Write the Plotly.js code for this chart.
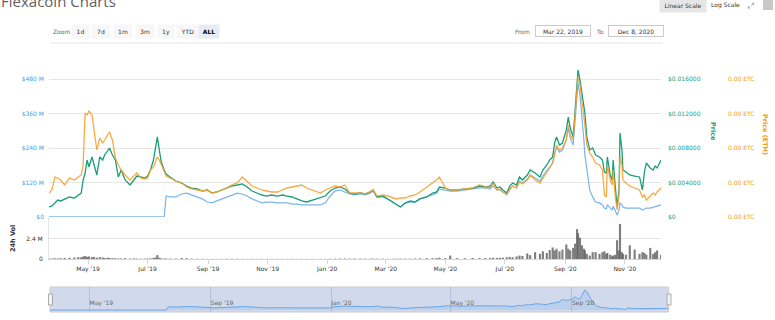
<!DOCTYPE html>
<html><head><meta charset="utf-8">
<script src="https://cdn.plot.ly/plotly-3.0.1.min.js"></script>
<style>html,body{margin:0;padding:0;background:#fff;}#chart{width:775px;height:320px;}</style>
</head><body><div id="chart"></div>
<script>
const dates = ["2019-03-22","2019-03-25","2019-03-28","2019-03-31","2019-04-03","2019-04-07","2019-04-12","2019-04-17","2019-04-21","2019-04-24","2019-04-26","2019-04-28","2019-04-30","2019-05-02","2019-05-05","2019-05-07","2019-05-10","2019-05-13","2019-05-16","2019-05-18","2019-05-21","2019-05-23","2019-05-26","2019-05-29","2019-06-01","2019-06-04","2019-06-08","2019-06-13","2019-06-17","2019-06-20","2019-06-24","2019-06-28","2019-07-01","2019-07-04","2019-07-07","2019-07-09","2019-07-11","2019-07-13","2019-07-15","2019-07-18","2019-07-20","2019-07-24","2019-07-30","2019-08-05","2019-08-10","2019-08-15","2019-08-21","2019-08-26","2019-08-31","2019-09-05","2019-09-10","2019-09-15","2019-09-20","2019-09-25","2019-10-01","2019-10-06","2019-10-11","2019-10-16","2019-10-21","2019-10-26","2019-10-31","2019-11-05","2019-11-11","2019-11-16","2019-11-21","2019-11-26","2019-12-01","2019-12-06","2019-12-11","2019-12-17","2019-12-25","2019-12-30","2020-01-04","2020-01-09","2020-01-14","2020-01-19","2020-01-24","2020-01-29","2020-02-04","2020-02-09","2020-02-14","2020-02-17","2020-02-21","2020-02-27","2020-03-03","2020-03-08","2020-03-12","2020-03-16","2020-03-21","2020-03-26","2020-03-31","2020-04-05","2020-04-12","2020-04-18","2020-04-22","2020-04-25","2020-05-01","2020-05-06","2020-05-13","2020-05-21","2020-05-29","2020-06-05","2020-06-11","2020-06-16","2020-06-19","2020-06-23","2020-06-26","2020-06-29","2020-07-03","2020-07-06","2020-07-09","2020-07-13","2020-07-16","2020-07-19","2020-07-24","2020-07-27","2020-08-01","2020-08-06","2020-08-09","2020-08-13","2020-08-16","2020-08-19","2020-08-21","2020-08-23","2020-08-26","2020-08-29","2020-09-02","2020-09-04","2020-09-06","2020-09-09","2020-09-11","2020-09-13","2020-09-14","2020-09-16","2020-09-18","2020-09-20","2020-09-21","2020-09-23","2020-09-26","2020-09-29","2020-10-02","2020-10-06","2020-10-09","2020-10-11","2020-10-13","2020-10-14","2020-10-17","2020-10-19","2020-10-20","2020-10-22","2020-10-24","2020-10-26","2020-10-27","2020-10-29","2020-10-30","2020-11-02","2020-11-06","2020-11-11","2020-11-16","2020-11-19","2020-11-21","2020-11-23","2020-11-27","2020-11-30","2020-12-02","2020-12-04","2020-12-08"];

// Market cap, USD millions
const marketCapM = [0.3,0.3,0.3,0.3,0.3,0.3,0.3,0.3,0.3,0.3,
0.3,0.3,0.3,0.3,0.3,0.3,0.3,0.3,0.3,0.3,
0.3,0.3,0.3,0.3,0.3,0.3,0.3,0.3,0.3,0.3,
0.3,0.3,0.3,0.3,0.3,0.3,0.3,0.3,0.3,0.3,
73,70,70,80,83,77,70,63,52,49,
56,63,70,77,83,80,73,63,56,49,
52,52,49,49,49,45,45,42,42,42,
42,49,73,90,94,87,80,77,80,77,
83,90,70,70,63,52,42,35,49,52,
52,63,70,77,83,97,94,90,90,94,
97,101,101,97,108,94,94,87,77,97,
108,101,125,118,132,146,136,125,143,163,
174,188,223,243,226,233,268,310,275,250,
337,424,466,424,355,268,216,163,94,70,
52,49,42,31,28,42,31,24,38,21,
7,24,49,42,35,31,31,31,31,24,
28,31,31,35,35,38,42];

// Price, USD
const priceUSD = [0.00116,0.00128,0.00162,0.00197,0.00186,0.00209,0.00232,0.00220,0.00255,0.00278,
0.00429,0.00510,0.00661,0.00580,0.00696,0.00603,0.00487,0.00696,0.00661,0.00719,
0.00777,0.00800,0.00719,0.00661,0.00464,0.00545,0.00429,0.00371,0.00429,0.00475,
0.00464,0.00452,0.00475,0.00545,0.00661,0.00800,0.00928,0.00777,0.00638,0.00545,
0.00499,0.00464,0.00417,0.00394,0.00359,0.00336,0.00325,0.00301,0.00313,0.00278,
0.00290,0.00313,0.00336,0.00359,0.00371,0.00383,0.00348,0.00301,0.00278,0.00255,
0.00243,0.00255,0.00243,0.00255,0.00243,0.00232,0.00209,0.00186,0.00174,0.00197,
0.00220,0.00243,0.00301,0.00336,0.00348,0.00325,0.00278,0.00267,0.00278,0.00267,
0.00290,0.00313,0.00232,0.00243,0.00209,0.00174,0.00139,0.00116,0.00162,0.00186,
0.00174,0.00209,0.00232,0.00278,0.00290,0.00348,0.00336,0.00313,0.00313,0.00325,
0.00336,0.00359,0.00348,0.00359,0.00406,0.00336,0.00348,0.00313,0.00278,0.00359,
0.00394,0.00371,0.00464,0.00429,0.00487,0.00545,0.00510,0.00464,0.00545,0.00603,
0.00661,0.00696,0.00858,0.00928,0.00835,0.00858,0.01009,0.01159,0.01032,0.00928,
0.01241,0.01530,0.01704,0.01588,0.01438,0.01299,0.01206,0.00928,0.00777,0.00800,
0.00719,0.00696,0.00661,0.00522,0.00510,0.00696,0.00487,0.00429,0.00661,0.00371,
0.00116,0.00313,0.00974,0.00777,0.00545,0.00522,0.00487,0.00475,0.00464,0.00313,
0.00522,0.00626,0.00568,0.00545,0.00591,0.00568,0.00661];

// Price in ETH, micro-ETH
const priceEthMicro = [6.96,7.83,11.59,11.30,10.72,9.28,11.30,10.72,11.59,12.17,
15.07,30.14,29.57,30.72,29.57,25.22,19.42,22.90,21.45,22.32,
23.77,24.64,22.32,17.10,15.07,13.62,12.17,10.72,11.88,12.75,
11.30,11.01,11.30,13.62,14.49,15.94,17.39,16.52,15.07,13.04,
11.88,11.30,10.43,9.86,8.70,8.12,7.83,7.54,7.83,6.96,
7.25,7.83,8.41,9.28,9.86,11.59,10.14,8.99,8.41,7.83,
7.54,7.25,7.25,7.83,8.41,8.70,8.99,9.28,8.41,7.83,
6.96,7.83,8.41,8.99,8.70,9.28,6.96,6.96,6.96,6.67,
7.25,7.83,6.09,6.38,6.09,5.51,5.22,5.51,5.51,6.09,
6.38,7.25,8.70,9.86,10.72,11.59,8.41,7.83,7.83,8.12,
8.41,9.28,8.70,8.41,9.86,7.83,8.12,7.25,6.67,7.83,
8.99,8.41,10.14,9.57,10.72,12.17,10.72,9.86,11.30,13.04,
14.20,15.65,17.97,20.87,19.42,20.00,22.32,26.67,23.77,22.32,
29.57,36.81,40.58,38.26,33.91,29.57,26.67,20.87,18.55,17.39,
15.65,15.07,13.62,6.38,5.80,15.07,10.72,9.28,13.62,6.38,
2.03,6.38,17.39,15.07,10.72,9.86,8.99,8.41,7.83,5.80,
6.38,4.93,6.09,6.96,6.38,7.25,8.41];

// 24h volume, millions
const volumeM = [0.06,0.05,0.08,0.06,0.10,0.12,0.15,0.18,0.22,0.20,
0.28,0.35,0.25,0.30,0.20,0.25,0.15,0.22,0.18,0.12,
0.15,0.12,0.10,0.08,0.06,0.07,0.10,0.05,0.07,0.05,
0.04,0.05,0.06,0.08,0.12,0.18,0.45,0.15,0.08,0.05,
0.06,0.05,0.05,0.12,0.10,0.04,0.03,0.03,0.02,0.02,
0.02,0.02,0.02,0.03,0.03,0.02,0.02,0.02,0.02,0.02,
0.02,0.02,0.02,0.02,0.02,0.02,0.02,0.02,0.02,0.02,
0.02,0.02,0.03,0.04,0.05,0.06,0.05,0.06,0.05,0.04,
0.04,0.05,0.04,0.04,0.03,0.03,0.04,0.05,0.04,0.05,
0.06,0.08,0.10,0.10,0.12,0.15,0.10,0.40,0.10,0.10,
0.12,0.10,0.12,0.12,0.15,0.12,0.14,0.15,0.20,0.25,
0.20,0.30,0.40,0.35,0.65,0.45,0.80,0.60,0.90,0.70,
1.05,1.35,1.00,1.20,0.90,1.10,1.70,1.20,1.00,1.30,
1.80,3.50,3.00,2.50,1.60,1.20,1.00,0.60,0.40,0.80,
0.80,0.60,0.80,0.90,0.60,0.70,0.50,0.30,0.40,0.50,
2.20,1.00,4.10,0.80,0.60,0.50,1.60,1.10,0.60,0.80,
0.70,0.50,1.30,0.60,0.80,1.00,0.50];

const capTickVals = [0,120,240,360,480];
const capTickText = ["$0","$120 M","$240 M","$360 M","$480 M"];
const priceTickVals = [0,0.004,0.008,0.012,0.016];
const priceTickText = ["$0","$0.004000","$0.008000","$0.012000","$0.016000"];
const ethTickVals = [0,10,20,30,40];
const ethTickText = ["0.00 ETC","0.00 ETC","0.00 ETC","0.00 ETC","0.00 ETC"];
const volTickVals = [0,2.4];
const volTickText = ["0","2.4 M"];
const zoomButtons = ["1d","7d","1m","3m","1y","YTD","ALL"];
const rangeFrom = "Mar 22, 2019";
const rangeTo = "Dec 8, 2020";
const dateRange = ["2019-03-22","2020-12-08"];

const W = 775, H = 320;
const px = x => x / W;
const py = y => 1 - y / H;
const FONT = "DejaVu Sans, Verdana, sans-serif";
const C_BLUE = "#7cb5ec", C_GREEN = "#1a9e77", C_ORANGE = "#f7a130";

const traces = [
  {type:"bar", x:dates, y:volumeM, xaxis:"x", yaxis:"y2", width:2.2*86400000,
   marker:{color:"rgba(95,95,95,0.8)", line:{width:0}}, hoverinfo:"skip"},
  {type:"scatter", mode:"lines", x:dates, y:marketCapM, xaxis:"x", yaxis:"y",
   line:{color:C_BLUE, width:1.2}, hoverinfo:"skip"},
  {type:"scatter", mode:"lines", x:dates, y:priceUSD, xaxis:"x", yaxis:"y3",
   line:{color:C_GREEN, width:1.3}, hoverinfo:"skip"},
  {type:"scatter", mode:"lines", x:dates, y:priceEthMicro, xaxis:"x", yaxis:"y4",
   line:{color:C_ORANGE, width:1.3}, opacity:0.9, hoverinfo:"skip"},
  {type:"scatter", mode:"lines", x:dates, y:marketCapM, xaxis:"x2", yaxis:"y5",
   line:{color:"#6aa6e4", width:1}, fill:"tozeroy", fillcolor:"rgba(124,181,236,0.25)", hoverinfo:"skip"}
];

function ann(text, x, y, o) {
  return Object.assign({text:text, x:px(x), y:py(y), xref:"paper", yref:"paper",
    showarrow:false, xanchor:"center", yanchor:"middle",
    font:{family:FONT, size:6, color:"#333"}}, o || {});
}

const btnCenters = [80,101,123,145,166,187,209];
const btnWidths = [15,16,16,16,14,19,18];
const annotations = [
  ann("Flexacoin Charts", -1, 0.5, {xanchor:"left", font:{family:"Open Sans, sans-serif", size:15, color:"#5f5f5f"}}),
  ann("Zoom", 61, 31, {font:{family:FONT, size:6, color:"#666"}}),
  ann("From", 522, 31.5, {font:{family:FONT, size:6, color:"#666"}}),
  ann(rangeFrom, 562.5, 31.5, {width:54, height:10, bgcolor:"#fff", bordercolor:"#cccccc", borderwidth:1, borderpad:0}),
  ann("To", 600, 31.5, {font:{family:FONT, size:6, color:"#666"}}),
  ann(rangeTo, 635.5, 31.5, {width:54, height:10, bgcolor:"#fff", bordercolor:"#cccccc", borderwidth:1, borderpad:0}),
  ann("Linear Scale", 683, 5, {width:44, height:11, bgcolor:"#e6e6e6", font:{family:FONT, size:6, color:"#333"}}),
  ann("Log Scale", 725, 5, {font:{family:FONT, size:6, color:"#333"}}),
  ann("⤢", 750, 5, {font:{family:FONT, size:8, color:"#999"}}),
  ann("Price", 713, 131, {textangle:90, font:{family:FONT, size:6.5, color:C_GREEN, weight:"bold"}}),
  ann("Price (ETH)", 765, 134, {textangle:90, font:{family:FONT, size:6.5, color:"#f39c12", weight:"bold"}}),
  ann("24h Vol", 13, 239, {textangle:-90, font:{family:FONT, size:6.5, color:"#333", weight:"bold"}})
];
zoomButtons.forEach((b, i) => {
  const sel = b === "ALL";
  annotations.push(ann(b, btnCenters[i], 31, {width:btnWidths[i], height:11,
    bgcolor: sel ? "#e6ebf5" : "#f7f7f7",
    font:{family:FONT, size:6, color: sel ? "#000" : "#333", weight: sel ? "bold" : "normal"}}));
});

const shapes = [
  {type:"line", xref:"paper", yref:"paper", x0:px(50), x1:px(663), y0:py(43), y1:py(43), line:{color:"#e6e6e6", width:1}},
  {type:"rect", xref:"paper", yref:"paper", x0:px(50), x1:px(668.6), y0:py(312), y1:py(287),
   fillcolor:"#d1daed", line:{color:"#cccccc", width:1}, layer:"below"},
  {type:"rect", xref:"paper", yref:"paper", x0:px(48.5), x1:px(52.5), y0:py(305), y1:py(294),
   fillcolor:"#f2f2f2", line:{color:"#999", width:0.8}},
  {type:"rect", xref:"paper", yref:"paper", x0:px(667), x1:px(671), y0:py(305), y1:py(294),
   fillcolor:"#f2f2f2", line:{color:"#999", width:0.8}},
  {type:"rect", xref:"paper", yref:"paper", x0:px(763), x1:px(773), y0:py(10), y1:py(0),
   fillcolor:"#c8c8c8", line:{width:0}}
];

const tf = c => ({family:FONT, size:6, color:c});
const layout = {
  width:W, height:H, margin:{l:0, r:0, t:0, b:0},
  paper_bgcolor:"#fff", plot_bgcolor:"rgba(0,0,0,0)",
  showlegend:false, hovermode:false,
  xaxis:{domain:[px(49), px(661)], anchor:"y2", type:"date", range:dateRange,
    tickformat:"%b '%y", tick0:"2019-05-01", dtick:"M2", ticks:"outside", ticklen:4, tickcolor:"#ccd6eb",
    showline:true, linecolor:"#ccd6eb", showgrid:false, zeroline:false, tickfont:tf("#333"), fixedrange:true},
  yaxis:{domain:[py(217), py(60)], anchor:"x", range:[0, 546.1], tickvals:capTickVals, ticktext:capTickText,
    gridcolor:"#e6e6e6", zeroline:false, showline:false, tickfont:tf("#4a9de3"), ticklabelstandoff:4, fixedrange:true},
  yaxis2:{domain:[py(259), py(217)], anchor:"x", range:[0, 4.917], tickvals:volTickVals, ticktext:volTickText,
    gridcolor:"#e6e6e6", zeroline:false, showline:true, linecolor:"#e0e6f0", tickfont:tf("#333"), ticklabelstandoff:4, fixedrange:true},
  yaxis3:{overlaying:"y", side:"right", anchor:"free", position:px(667), range:[0, 0.018203],
    tickvals:priceTickVals, ticktext:priceTickText, showgrid:false, zeroline:false, showline:false,
    tickfont:tf(C_GREEN), fixedrange:true},
  yaxis4:{overlaying:"y", side:"right", anchor:"free", position:px(727), range:[0, 45.51],
    tickvals:ethTickVals, ticktext:ethTickText, showgrid:false, zeroline:false, showline:false,
    tickfont:tf("#f39c12"), fixedrange:true},
  xaxis2:{domain:[px(50), px(668.6)], anchor:"y5", type:"date", range:dateRange,
    tickformat:"%b '%y", tick0:"2019-01-01", dtick:"M4", ticks:"", ticklabelposition:"inside right",
    showgrid:true, gridcolor:"rgba(150,160,190,0.45)", zeroline:false, showline:false,
    tickfont:{family:FONT, size:6, color:"#666"}, fixedrange:true},
  yaxis5:{domain:[py(312), py(287)], anchor:"x2", range:[-46.6, 536], showticklabels:false,
    showgrid:false, zeroline:false, showline:false, fixedrange:true},
  annotations:annotations, shapes:shapes
};

Plotly.newPlot("chart", traces, layout, {displayModeBar:false, staticPlot:true});
</script></body></html>
